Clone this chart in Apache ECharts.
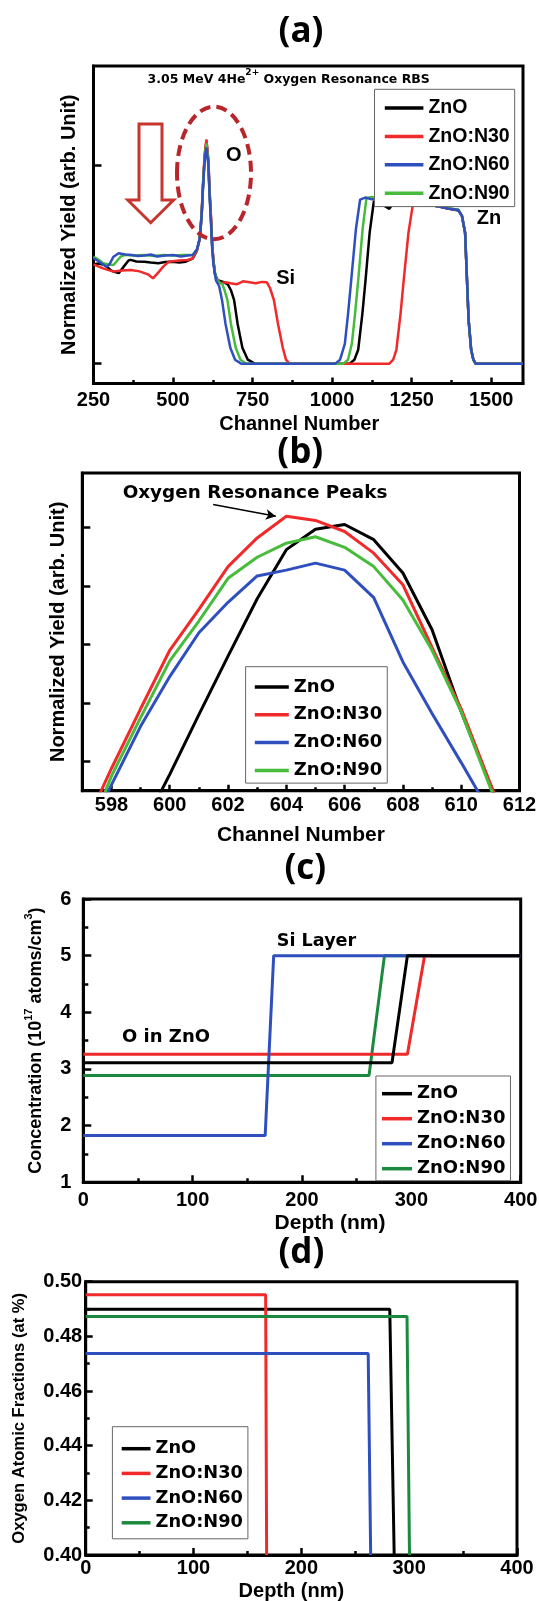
<!DOCTYPE html>
<html><head><meta charset="utf-8">
<script src="https://cdn.jsdelivr.net/npm/echarts@6/dist/echarts.min.js"></script>
<style>html,body{margin:0;padding:0;background:#fff}#c{width:539px;height:1601px}</style>
</head><body><div id="c"></div>
<script>
// ---------- DATA ----------
const seriesNames = ['ZnO', 'ZnO:N30', 'ZnO:N60', 'ZnO:N90'];

// (a) RBS spectra  [channel, normalized yield]
const rbsZnO = [[250,0.50],[265,0.505],[280,0.50],[291,0.49],[305,0.47],[313,0.464],[329,0.456],[345,0.489],[360,0.52],[367,0.523],[385,0.515],[410,0.514],[430,0.51],[454,0.506],[475,0.512],[497,0.514],[520,0.51],[540,0.514],[562,0.531],[575,0.57],[584,0.63],[590,0.75],[594,0.89],[598,1.0],[601,1.07],[605,1.12],[611,1.02],[615,0.86],[619,0.74],[623,0.6],[627,0.52],[632,0.45],[640,0.42],[650,0.415],[660,0.41],[672,0.40],[682,0.37],[692,0.32],[703,0.2],[718,0.08],[735,0.02],[757,0],[900,0],[1055,0],[1070,0.02],[1082,0.07],[1095,0.25],[1105,0.42],[1118,0.66],[1131,0.816],[1145,0.815],[1160,0.80],[1180,0.78],[1190,0.805],[1220,0.81],[1256,0.805],[1290,0.80],[1310,0.80],[1340,0.79],[1364,0.782],[1397,0.772],[1408,0.745],[1418,0.66],[1429,0.221],[1437,0.07],[1444,0.02],[1451,0],[1600,0]];
const rbsN30 = [[250,0.50],[265,0.49],[280,0.48],[300,0.47],[313,0.464],[340,0.47],[367,0.472],[395,0.465],[421,0.45],[437,0.43],[454,0.46],[470,0.49],[486,0.513],[519,0.52],[545,0.522],[562,0.53],[575,0.57],[584,0.63],[590,0.76],[594,0.9],[598,1.02],[601,1.08],[605,1.13],[611,1.03],[615,0.87],[619,0.75],[623,0.6],[627,0.52],[632,0.45],[640,0.42],[650,0.405],[665,0.41],[680,0.405],[700,0.40],[720,0.415],[740,0.41],[760,0.405],[780,0.412],[795,0.41],[805,0.38],[817,0.32],[830,0.2],[845,0.08],[855,0.02],[866,0],[1000,0],[1180,0],[1192,0.02],[1202,0.07],[1215,0.25],[1225,0.42],[1240,0.66],[1256,0.824],[1270,0.81],[1283,0.805],[1310,0.80],[1340,0.79],[1364,0.782],[1397,0.774],[1408,0.745],[1418,0.66],[1429,0.221],[1437,0.07],[1444,0.02],[1451,0],[1600,0]];
const rbsN60 = [[250,0.531],[262,0.52],[275,0.506],[291,0.489],[300,0.5],[313,0.539],[329,0.556],[350,0.55],[370,0.548],[389,0.543],[410,0.545],[430,0.55],[450,0.54],[475,0.545],[500,0.548],[525,0.54],[545,0.545],[562,0.548],[575,0.575],[584,0.63],[590,0.75],[594,0.88],[598,0.99],[601,1.05],[605,1.09],[611,1.0],[615,0.84],[619,0.72],[623,0.58],[627,0.5],[635,0.42],[645,0.39],[654,0.32],[665,0.2],[680,0.08],[695,0.02],[714,0],[900,0],[1010,0],[1025,0.02],[1040,0.1],[1050,0.25],[1060,0.42],[1075,0.68],[1088,0.827],[1104,0.837],[1125,0.828],[1147,0.824],[1175,0.818],[1202,0.816],[1230,0.81],[1256,0.805],[1283,0.80],[1310,0.80],[1340,0.79],[1364,0.782],[1397,0.774],[1408,0.745],[1418,0.66],[1429,0.221],[1437,0.07],[1444,0.02],[1451,0],[1600,0]];
const rbsN90 = [[250,0.539],[265,0.525],[280,0.506],[300,0.5],[313,0.497],[325,0.52],[335,0.539],[350,0.548],[380,0.545],[410,0.548],[440,0.543],[470,0.548],[500,0.545],[530,0.548],[562,0.548],[575,0.575],[584,0.63],[590,0.75],[594,0.89],[598,1.0],[601,1.06],[605,1.11],[611,1.01],[615,0.85],[619,0.73],[623,0.59],[627,0.51],[635,0.43],[645,0.41],[655,0.40],[662,0.37],[671,0.32],[682,0.2],[697,0.08],[712,0.02],[730,0],[900,0],[1035,0],[1050,0.02],[1062,0.1],[1072,0.25],[1082,0.42],[1096,0.68],[1108,0.835],[1125,0.84],[1147,0.83],[1175,0.82],[1202,0.818],[1230,0.81],[1256,0.808],[1283,0.805],[1310,0.80],[1340,0.792],[1364,0.785],[1397,0.776],[1408,0.745],[1418,0.66],[1429,0.221],[1437,0.07],[1444,0.02],[1451,0],[1600,0]];
const rbsMajorTicks = [250, 500, 750, 1000, 1250, 1500];
const rbsMinorTicks = [375, 625, 875, 1125, 1375];
const rbsYTicks = [0, 1];

// (b) oxygen resonance peaks
const peakChannels = [597,598,599,600,601,602,603,604,605,606,607,608,609,610,611,612];
const peakZnO = [-2.2,-1.2,-0.2,0.78,1.8,2.8,3.78,4.62,4.97,5.05,4.79,4.22,3.25,1.85,0.6,-0.7];
const peakN30 = [-0.2,0.88,1.9,2.9,3.6,4.33,4.82,5.19,5.12,4.93,4.56,4.02,2.95,1.9,0.62,-0.6];
const peakN60 = [-0.4,0.6,1.6,2.45,3.2,3.72,4.17,4.27,4.39,4.27,3.8,2.7,1.82,0.98,0.12,-0.8];
const peakN90 = [-0.5,0.75,1.75,2.72,3.4,4.13,4.49,4.73,4.84,4.66,4.33,3.76,2.9,1.85,0.55,-0.7];
const peakMajorTicks = [598,600,602,604,606,608,610,612];
const peakMinorTicks = [599,601,603,605,607,609,611];
const peakYTicks = [1,2,3,4,5];

// (c) concentration depth profiles  [depth nm, 1e17 atoms/cm3]
const concZnO = [[0,3.11],[282.3,3.11],[296.4,5],[400,5]];
const concN30 = [[0,3.26],[296.4,3.26],[312.1,5],[400,5]];
const concN60 = [[0,1.825],[166.3,1.825],[174.1,5],[400,5]];
const concN90 = [[0,2.885],[261.3,2.885],[275.4,5],[400,5]];

// (d) oxygen atomic fraction  [depth nm, at %]
const fracZnO = [[0,0.4899],[282,0.4899],[286.1,0.40]];
const fracN30 = [[0,0.4952],[166.9,0.4952],[167.8,0.40]];
const fracN60 = [[0,0.4737],[262,0.4737],[264.3,0.40]];
const fracN90 = [[0,0.4873],[298,0.4873],[300.3,0.40]];

// ---------- STYLE ----------
const LIB = "'Liberation Sans', Arial, sans-serif";
const DJV = "'DejaVu Sans', sans-serif";
const OPS = "'Open Sans', sans-serif";
const C_BLACK = '#000000', C_RED = '#f02a2a', C_BLUE = '#2f4fbf', C_GREEN_L = '#46bb3c', C_GREEN_D = '#1b8a3e';

function tick(len, extra) { return Object.assign({show:true, inside:true, length:len, lineStyle:{color:'#000', width:2.5}}, extra||{}); }
const AXLINE = {show:true, onZero:false, lineStyle:{color:'#000', width:3}};
const NOLINE = {show:false, onZero:false};
function lbl(extra) { return Object.assign({color:'#000', fontSize:20, fontWeight:'bold', fontFamily:LIB}, extra||{}); }
function nameStyle(size, extra) { return Object.assign({color:'#000', fontSize:size, fontWeight:'bold', fontFamily:LIB}, extra||{}); }
const strip = n => n.split('@')[0];
const onlyIn = list => (v => list.indexOf(Math.round(v)) >= 0 ? String(Math.round(v)) : '');

function line(name, data, color, xi, yi, w) {
  return {type:'line', name:name, data:data, xAxisIndex:xi, yAxisIndex:yi, symbol:'none', showSymbol:false,
    lineStyle:{color:color, width:w}, itemStyle:{color:color}, clip:true, animation:false, silent:true};
}
const pairs = (xs, ys) => xs.map((x, i) => [x, ys[i]]);

function legend(tag, left, top, opt) {
  return Object.assign({
    orient:'vertical', left:left, top:top, selectedMode:false,
    data: seriesNames.map(n => ({name: n + '@' + tag, icon:'rect'})), formatter: strip,
    borderColor:'#666', borderWidth:1, backgroundColor:'#fff', itemHeight:3.5
  }, opt);
}

const grids = [
  {left:93.5, top:66, width:429.5, height:317.5},
  {left:82.3, top:473, width:437.2, height:317.7},
  {left:83.3, top:899, width:437.4, height:283.3},
  {left:85.7, top:1281.7, width:431.3, height:273.3}
].map(g => Object.assign(g, {show:true, borderColor:'#000', borderWidth:3, backgroundColor:'transparent', containLabel:false, outerBoundsMode:'none'}));

const xAxis = [
  {gridIndex:0, type:'value', min:250, max:1600, position:'bottom', axisLine:AXLINE,
   axisTick:tick(6, {customValues:rbsMajorTicks}),
   axisLabel:lbl({customValues:rbsMajorTicks, margin:7, formatter:onlyIn(rbsMajorTicks)}),
   splitLine:{show:false}, name:'Channel Number', nameLocation:'middle', nameGap:30.5,
   nameTextStyle:nameStyle(20, {padding:[0,18,0,0]})},
  {gridIndex:0, type:'value', min:250, max:1600, position:'bottom', axisLine:NOLINE,
   axisTick:tick(3.5, {customValues:rbsMinorTicks}), axisLabel:{show:false}, splitLine:{show:false}},
  {gridIndex:1, type:'value', min:597, max:612, position:'bottom', axisLine:AXLINE,
   axisTick:tick(6, {customValues:peakMajorTicks}),
   axisLabel:lbl({customValues:peakMajorTicks, margin:4.5, formatter:onlyIn(peakMajorTicks)}),
   splitLine:{show:false}, name:'Channel Number', nameLocation:'middle', nameGap:33.8,
   nameTextStyle:nameStyle(21)},
  {gridIndex:1, type:'value', min:597, max:612, position:'bottom', axisLine:NOLINE,
   axisTick:tick(3.5, {customValues:peakMinorTicks}), axisLabel:{show:false}, splitLine:{show:false}},
  {gridIndex:2, type:'value', min:0, max:400, interval:100, position:'bottom', axisLine:AXLINE,
   axisTick:tick(7), minorTick:{show:true, splitNumber:2, length:4, lineStyle:{color:'#000', width:2.5}},
   axisLabel:lbl({margin:7.7}), splitLine:{show:false}, minorSplitLine:{show:false},
   name:'Depth (nm)', nameLocation:'middle', nameGap:30.2, nameTextStyle:nameStyle(21, {padding:[0,0,0,56]})},
  {gridIndex:3, type:'value', min:0, max:400, interval:100, position:'bottom', axisLine:AXLINE,
   axisTick:tick(7), minorTick:{show:true, splitNumber:2, length:4, lineStyle:{color:'#000', width:2.5}},
   axisLabel:lbl({margin:3.5}), splitLine:{show:false}, minorSplitLine:{show:false},
   name:'Depth (nm)', nameLocation:'middle', nameGap:26.7, nameTextStyle:nameStyle(20, {padding:[0,20,0,0]})}
];

const yAxis = [
  {gridIndex:0, type:'value', min:-0.1, max:1.5, position:'left', axisLine:AXLINE,
   axisTick:tick(8, {customValues:rbsYTicks}), axisLabel:{show:false}, splitLine:{show:false},
   name:'Normalized Yield (arb. Unit)', nameLocation:'middle', nameRotate:90, nameGap:14,
   nameTextStyle:nameStyle(20)},
  {gridIndex:1, type:'value', min:0.5, max:5.93, position:'left', axisLine:AXLINE,
   axisTick:tick(8, {customValues:peakYTicks}), axisLabel:{show:false}, splitLine:{show:false},
   name:'Normalized Yield (arb. Unit)', nameLocation:'middle', nameRotate:90, nameGap:13.7,
   nameTextStyle:nameStyle(20)},
  {gridIndex:2, type:'value', min:1, max:6, interval:1, position:'left', axisLine:AXLINE,
   axisTick:tick(8), minorTick:{show:true, splitNumber:2, length:5, lineStyle:{color:'#000', width:2.5}},
   axisLabel:lbl({margin:12}), splitLine:{show:false}, minorSplitLine:{show:false},
   name:'Concentration (10{sup|17} atoms/cm{sup|3})', nameLocation:'middle', nameRotate:90, nameGap:22,
   nameTextStyle:nameStyle(18, {lineHeight:26, rich:{sup:{fontSize:11, lineHeight:11, verticalAlign:'top', fontWeight:'bold', fontFamily:LIB, color:'#000'}}})},
  {gridIndex:3, type:'value', min:0.4, max:0.5, interval:0.02, position:'left', axisLine:AXLINE,
   axisTick:tick(7), minorTick:{show:true, splitNumber:2, length:4, lineStyle:{color:'#000', width:2.5}},
   axisLabel:lbl({margin:3.5, formatter: v => v.toFixed(2)}), splitLine:{show:false}, minorSplitLine:{show:false},
   name:'Oxygen Atomic Fractions (at %)', nameLocation:'middle', nameRotate:90, nameGap:57.5,
   nameTextStyle:nameStyle(16.6)}
];

const series = [
  // (a) — blue drawn last (on top)
  line('ZnO@a', rbsZnO, C_BLACK, 0, 0, 2.5),
  line('ZnO:N30@a', rbsN30, C_RED, 0, 0, 2.5),
  line('ZnO:N90@a', rbsN90, C_GREEN_L, 0, 0, 2.5),
  line('ZnO:N60@a', rbsN60, C_BLUE, 0, 0, 2.5),
  // (b)
  line('ZnO@b', pairs(peakChannels, peakZnO), C_BLACK, 2, 1, 3),
  Object.assign(line('ZnO:N30@b', pairs(peakChannels, peakN30), C_RED, 2, 1, 3), {
    markLine:{silent:true, symbol:['none','arrow'], symbolSize:[8,10], animation:false,
      lineStyle:{color:'#000', width:1.5, type:'solid'}, label:{show:false},
      data:[[{coord:[601.49, 5.39]}, {coord:[603.64, 5.19]}]]}
  }),
  line('ZnO:N60@b', pairs(peakChannels, peakN60), C_BLUE, 2, 1, 3),
  line('ZnO:N90@b', pairs(peakChannels, peakN90), C_GREEN_L, 2, 1, 3),
  // (c) — black on top
  line('ZnO:N90@c', concN90, C_GREEN_D, 4, 2, 3),
  line('ZnO:N30@c', concN30, C_RED, 4, 2, 3),
  line('ZnO:N60@c', concN60, C_BLUE, 4, 2, 3),
  line('ZnO@c', concZnO, C_BLACK, 4, 2, 3),
  // (d)
  line('ZnO@d', fracZnO, C_BLACK, 5, 3, 3),
  line('ZnO:N30@d', fracN30, C_RED, 5, 3, 3),
  line('ZnO:N60@d', fracN60, C_BLUE, 5, 3, 3),
  line('ZnO:N90@d', fracN90, C_GREEN_D, 5, 3, 3)
];

const legends = [
  legend('a', 374.5, 89.3, {itemWidth:38.6, itemGap:8.4, padding:[8.7,5,3.4,10.3],
    textStyle:{fontFamily:LIB, fontWeight:'bold', fontSize:19.5, color:'#000', lineHeight:16}}),
  legend('b', 245.6, 666.7, {itemWidth:34, itemGap:9.8, padding:[11.3,5,3.7,9.2],
    textStyle:{fontFamily:DJV, fontWeight:'bold', fontSize:18, color:'#000', lineHeight:16}}),
  legend('c', 375.9, 1076, {itemWidth:30, itemGap:7, padding:[8.7,5,3,6.1],
    textStyle:{fontFamily:DJV, fontWeight:'bold', fontSize:18, color:'#000', lineHeight:16}}),
  legend('d', 112.4, 1426.7, {itemWidth:28.8, itemGap:6.7, padding:[13,5,7,9.3],
    textStyle:{fontFamily:DJV, fontWeight:'bold', fontSize:17.8, color:'#000', lineHeight:16}})
];

function txt(x, y, text, font, extra) {
  return Object.assign({type:'text', x:x, y:y, z:50, silent:true,
    style:Object.assign({text:text, font:font, fill:'#000', textAlign:'center', textVerticalAlign:'middle', align:'center', verticalAlign:'middle'}, (extra||{}))});
}

const graphic = [
  txt(301, 31.7, '(a)', "bold 35px " + OPS),
  txt(300.2, 453.3, '(b)', "bold 35px " + OPS),
  txt(305.3, 869, '(c)', "bold 35px " + OPS),
  txt(301.4, 1253.3, '(d)', "bold 35px " + OPS),
  txt(288.7, 80, '3.05 MeV 4He{sup|2+} Oxygen Resonance RBS', "bold 12.5px " + DJV,
      {lineHeight:24, rich:{sup:{fontSize:9, lineHeight:9, verticalAlign:'top', fontWeight:'bold', fontFamily:DJV, fill:'#000'}}}),
  txt(233.9, 155, 'O', "bold 20px " + LIB),
  txt(285.6, 278.3, 'Si', "bold 20px " + LIB),
  txt(489, 218.3, 'Zn', "bold 20px " + LIB),
  {type:'ellipse', z:40, silent:true, shape:{cx:214, cy:173, rx:37, ry:66.3},
   style:{fill:'none', stroke:'#b8262b', lineWidth:4, lineDash:[11,6]}},
  {type:'polygon', z:40, silent:true,
   shape:{points:[[139,124],[162,124],[162,200],[173.6,200],[150.7,222.7],[127.8,200],[139,200]]},
   style:{fill:'none', stroke:'#c8352f', lineWidth:3}},
  txt(255, 493, 'Oxygen Resonance Peaks', "bold 18.4px " + DJV),
  txt(316.5, 941.7, 'Si Layer', "bold 17.6px " + DJV),
  txt(166, 1037.3, 'O in ZnO', "bold 18px " + DJV)
];

const chart = echarts.init(document.getElementById('c'), null, {renderer:'canvas'});
chart.setOption({
  animation:false,
  backgroundColor:'#fff',
  grid:grids, xAxis:xAxis, yAxis:yAxis, series:series, legend:legends, graphic:graphic
});
</script>
</body></html>
